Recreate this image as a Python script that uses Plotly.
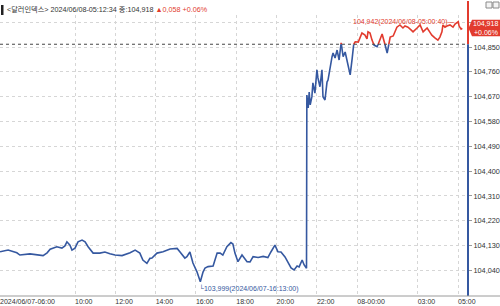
import pandas as pd
import plotly.graph_objects as go

# ---------------- data ----------------
times = [
    "2024-06-07 06:17", "2024-06-07 06:41", "2024-06-07 07:07", "2024-06-07 07:16", "2024-06-07 07:46",
    "2024-06-07 08:25", "2024-06-07 08:37", "2024-06-07 08:46", "2024-06-07 09:06", "2024-06-07 09:21",
    "2024-06-07 09:30", "2024-06-07 09:36", "2024-06-07 09:45", "2024-06-07 09:51", "2024-06-07 10:00",
    "2024-06-07 10:09", "2024-06-07 10:21", "2024-06-07 10:30", "2024-06-07 10:39", "2024-06-07 10:54",
    "2024-06-07 11:14", "2024-06-07 11:29", "2024-06-07 11:44", "2024-06-07 11:59", "2024-06-07 12:20",
    "2024-06-07 12:35", "2024-06-07 12:44", "2024-06-07 12:59", "2024-06-07 13:08", "2024-06-07 13:13",
    "2024-06-07 13:22", "2024-06-07 13:34", "2024-06-07 13:43", "2024-06-07 13:49", "2024-06-07 14:04",
    "2024-06-07 14:22", "2024-06-07 14:43", "2024-06-07 14:58", "2024-06-07 15:04", "2024-06-07 15:12",
    "2024-06-07 15:27", "2024-06-07 15:33", "2024-06-07 15:42", "2024-06-07 15:51", "2024-06-07 16:03",
    "2024-06-07 16:13", "2024-06-07 16:21", "2024-06-07 16:27", "2024-06-07 16:36", "2024-06-07 16:51",
    "2024-06-07 17:03", "2024-06-07 17:12", "2024-06-07 17:20", "2024-06-07 17:32", "2024-06-07 17:44",
    "2024-06-07 17:50", "2024-06-07 17:56", "2024-06-07 18:05", "2024-06-07 18:17", "2024-06-07 18:32",
    "2024-06-07 18:41", "2024-06-07 18:50", "2024-06-07 19:05", "2024-06-07 19:20", "2024-06-07 19:34",
    "2024-06-07 19:43", "2024-06-07 19:55", "2024-06-07 20:04", "2024-06-07 20:13", "2024-06-07 20:25",
    "2024-06-07 20:34", "2024-06-07 20:43", "2024-06-07 20:52", "2024-06-07 21:01", "2024-06-07 21:07",
    "2024-06-07 21:16", "2024-06-07 21:22", "2024-06-07 21:29", "2024-06-07 21:30", "2024-06-07 21:34",
    "2024-06-07 21:37", "2024-06-07 21:40", "2024-06-07 21:45", "2024-06-07 21:48", "2024-06-07 21:54",
    "2024-06-07 22:00", "2024-06-07 22:03", "2024-06-07 22:09", "2024-06-07 22:15", "2024-06-07 22:18",
    "2024-06-07 22:24", "2024-06-07 22:30", "2024-06-07 22:33", "2024-06-07 22:39", "2024-06-07 22:45",
    "2024-06-07 22:48", "2024-06-07 22:54", "2024-06-07 23:00", "2024-06-07 23:06", "2024-06-07 23:12",
    "2024-06-07 23:18", "2024-06-07 23:24", "2024-06-07 23:30", "2024-06-07 23:33", "2024-06-07 23:39",
    "2024-06-07 23:45", "2024-06-07 23:48", "2024-06-07 23:54", "2024-06-08 00:03", "2024-06-08 00:08",
    "2024-06-08 00:14", "2024-06-08 00:23", "2024-06-08 00:29", "2024-06-08 00:32", "2024-06-08 00:38",
    "2024-06-08 00:44", "2024-06-08 00:50", "2024-06-08 00:59", "2024-06-08 01:08", "2024-06-08 01:14",
    "2024-06-08 01:23", "2024-06-08 01:29", "2024-06-08 01:38", "2024-06-08 01:47", "2024-06-08 01:58",
    "2024-06-08 02:07", "2024-06-08 02:16", "2024-06-08 02:22", "2024-06-08 02:31", "2024-06-08 02:40",
    "2024-06-08 02:46", "2024-06-08 02:58", "2024-06-08 03:07", "2024-06-08 03:16", "2024-06-08 03:28",
    "2024-06-08 03:36", "2024-06-08 03:42", "2024-06-08 03:51", "2024-06-08 04:00", "2024-06-08 04:06",
    "2024-06-08 04:12", "2024-06-08 04:15", "2024-06-08 04:21", "2024-06-08 04:27", "2024-06-08 04:36",
    "2024-06-08 04:45", "2024-06-08 04:51", "2024-06-08 05:00:40", "2024-06-08 05:03", "2024-06-08 05:09",
    "2024-06-08 05:12:34",
]
values = [
    104.108, 104.114, 104.104, 104.096, 104.100,
    104.094, 104.104, 104.117, 104.126, 104.121,
    104.129, 104.144, 104.132, 104.114, 104.121,
    104.144, 104.150, 104.144, 104.126, 104.103,
    104.103, 104.107, 104.101, 104.096, 104.094,
    104.100, 104.104, 104.114, 104.107, 104.103,
    104.078, 104.066, 104.084, 104.085, 104.103,
    104.108, 104.118, 104.118, 104.120, 104.108,
    104.085, 104.090, 104.107, 104.067, 104.035,
    103.999, 104.034, 104.049, 104.054, 104.056,
    104.103, 104.103, 104.096, 104.126, 104.141,
    104.136, 104.103, 104.072, 104.096, 104.072,
    104.071, 104.090, 104.087, 104.091, 104.087,
    104.107, 104.132, 104.108, 104.107, 104.089,
    104.066, 104.049, 104.042, 104.056, 104.053,
    104.078, 104.060, 104.048, 104.676, 104.629,
    104.687, 104.640, 104.670, 104.720, 104.683,
    104.767, 104.738, 104.706, 104.767, 104.670,
    104.658, 104.723, 104.730, 104.779, 104.815,
    104.828, 104.810, 104.839, 104.803, 104.865,
    104.815, 104.832, 104.803, 104.781, 104.749,
    104.810, 104.857, 104.869, 104.868, 104.883,
    104.901, 104.893, 104.879, 104.905, 104.901,
    104.875, 104.857, 104.851, 104.875, 104.897,
    104.857, 104.828, 104.886, 104.890, 104.922,
    104.930, 104.919, 104.926, 104.922, 104.912,
    104.905, 104.919, 104.930, 104.905, 104.919,
    104.904, 104.893, 104.883, 104.875, 104.886,
    104.905, 104.930, 104.922, 104.926, 104.930,
    104.922, 104.933, 104.942, 104.926, 104.915,
    104.918,
]
prev_close = 104.860
last_close = 104.918
change = "0.058"
change_pct = "+0.06%"
last_time_label = "2024/06/08-05:12:34"
title_name = "달러인덱스"

ytick_vals = [104.04, 104.13, 104.22, 104.31, 104.40, 104.49, 104.58, 104.67, 104.76, 104.85, 104.94]
ytick_text = ["104,040", "104,130", "104,220", "104,310", "104,400", "104,490",
              "104,580", "104,670", "104,760", "104,850", ""]
xtick_vals = ["2024-06-07 06:17", "2024-06-07 10:00", "2024-06-07 12:00", "2024-06-07 14:00",
              "2024-06-07 16:00", "2024-06-07 18:00", "2024-06-07 20:00", "2024-06-07 22:00",
              "2024-06-08 00:00", "2024-06-08 03:00", "2024-06-08 05:00"]
xtick_text = ["2024/06/07-06:00", "10:00", "12:00", "14:00", "16:00", "18:00", "20:00", "22:00",
              "08-00:00", "03:00", "05:00"]

# ---------------- styling ----------------
BLUE = "#3558a0"
RED = "#e23b2e"
FONT = "Liberation Sans, Arial, Noto Sans CJK KR, sans-serif"
W, H = 500, 306
ML, MR, MT, MB = 0, 32, 15, 10
PW, PH = W - ML - MR, H - MT - MB
X_RANGE = ["2024-06-07 06:16:48", "2024-06-08 05:29:36"]
Y_RANGE = [103.9475, 104.966]


def ypaper(v):
    return (v - Y_RANGE[0]) / (Y_RANGE[1] - Y_RANGE[0])


def ypx_to_paper(py):
    return (H - MB - py) / PH


def xpx_to_paper(px):
    return (px - ML) / PW


# ---------------- split line by previous close ----------------
ts = list(pd.to_datetime(times, format="mixed"))
runs = []
cur_color = "r" if values[0] > prev_close else "b"
cur = [(ts[0], values[0])]
for i in range(1, len(values)):
    t0, v0 = ts[i - 1], values[i - 1]
    t1, v1 = ts[i], values[i]
    c1 = "r" if v1 > prev_close else ("b" if v1 < prev_close else cur_color)
    if c1 != cur_color:
        frac = (prev_close - v0) / (v1 - v0)
        tc = t0 + (t1 - t0) * frac
        cur.append((tc, prev_close))
        runs.append((cur_color, cur))
        cur = [(tc, prev_close)]
        cur_color = c1
    cur.append((t1, v1))
runs.append((cur_color, cur))

series = {"r": ([], []), "b": ([], [])}
for c, pts in runs:
    xs, ys = series[c]
    for t, v in pts:
        xs.append(t)
        ys.append(v)
    xs.append(None)
    ys.append(None)

fig = go.Figure()
for c, col in (("b", BLUE), ("r", RED)):
    xs, ys = series[c]
    fig.add_trace(go.Scatter(x=xs, y=ys, mode="lines", line=dict(color=col, width=1.6),
                             hoverinfo="skip", showlegend=False, connectgaps=False))

# ---------------- shapes ----------------
shapes = []
shapes.append(dict(type="line", xref="paper", yref="y", x0=0, x1=1, y0=prev_close, y1=prev_close,
                   line=dict(color="#444444", width=1, dash="dot")))
shapes.append(dict(type="line", xref="paper", yref="paper", x0=1, x1=1,
                   y0=ypaper(prev_close), y1=ypx_to_paper(1),
                   line=dict(color=RED, width=2)))
shapes.append(dict(type="line", xref="paper", yref="paper", x0=1, x1=1,
                   y0=0, y1=ypaper(prev_close),
                   line=dict(color=BLUE, width=2)))
shapes.append(dict(type="line", xref="paper", yref="paper", x0=0, x1=xpx_to_paper(W), y0=0, y1=0,
                   line=dict(color="#9a9a9a", width=1)))
cy = ypaper(last_close)
hpx = 1 / PH
x_tip = xpx_to_paper(PW + 0.5)
x_b = xpx_to_paper(PW + 4)
x_e = xpx_to_paper(W)
y_t = cy + 8.5 * hpx
y_b = cy - 8.0 * hpx
shapes.append(dict(type="path", xref="paper", yref="paper",
                   path=f"M {x_tip},{cy} L {x_b},{y_t} L {x_e},{y_t} L {x_e},{y_b} L {x_b},{y_b} Z",
                   fillcolor=RED, line=dict(width=0)))
shapes.append(dict(type="rect", xref="paper", yref="paper",
                   x0=xpx_to_paper(1), x1=xpx_to_paper(3.5), y0=ypx_to_paper(15), y1=ypx_to_paper(5),
                   fillcolor="#222222", line=dict(width=0)))
for x0 in (486, 493):
    shapes.append(dict(type="rect", xref="paper", yref="paper",
                       x0=xpx_to_paper(x0), x1=xpx_to_paper(x0 + 6), y0=ypx_to_paper(8), y1=ypx_to_paper(2),
                       fillcolor="#f4f4f4", line=dict(color="#8a8a8a", width=1)))

# ---------------- annotations ----------------
annotations = []
header = (f"&lt;{title_name}&gt; {last_time_label} 종:{last_close:.3f}".replace(".", ",")
          + f" <span style='color:{RED}'>▲{change.replace('.', ',')} {change_pct}</span>")
annotations.append(dict(xref="paper", yref="paper", x=xpx_to_paper(5), y=ypx_to_paper(9.5),
                        xanchor="left", yanchor="middle", showarrow=False, text=header,
                        font=dict(family=FONT, size=7.2, color="#333333")))
annotations.append(dict(xref="paper", yref="paper", x=xpx_to_paper((PW + 3 + W) / 2), y=cy + 4.3 * hpx,
                        xanchor="center", yanchor="middle", showarrow=False,
                        text=f"{last_close:.3f}".replace(".", ","),
                        font=dict(family=FONT, size=7, color="white")))
annotations.append(dict(xref="paper", yref="paper", x=xpx_to_paper((PW + 3 + W) / 2), y=cy - 4.0 * hpx,
                        xanchor="center", yanchor="middle", showarrow=False,
                        text=change_pct, font=dict(family=FONT, size=7, color="white")))
imax = max(range(len(values)), key=lambda i: values[i])
imin = min(range(len(values)), key=lambda i: values[i])
annotations.append(dict(x=ts[imax], y=values[imax], xref="x", yref="y", xanchor="right", yanchor="middle",
                        showarrow=False, xshift=-1,
                        text=f"{values[imax]:.3f}".replace(".", ",") + f"({ts[imax]:%Y/%m/%d-%H:%M:%S})—",
                        font=dict(family=FONT, size=7, color=RED)))
annotations.append(dict(x=ts[imin], y=values[imin], xref="x", yref="y", xanchor="left", yanchor="top",
                        showarrow=False, xshift=-3, yshift=0,
                        text="└" + f"{values[imin]:.3f}".replace(".", ",") + f"({ts[imin]:%Y/%m/%d-%H:%M:%S})",
                        font=dict(family=FONT, size=7, color=BLUE)))

fig.update_layout(
    width=W, height=H,
    margin=dict(l=ML, r=MR, t=MT, b=MB, pad=0),
    paper_bgcolor="white", plot_bgcolor="white",
    showlegend=False,
    shapes=shapes, annotations=annotations,
    font=dict(family=FONT, size=7, color="#333333"),
    xaxis=dict(type="date", range=X_RANGE, tickmode="array", tickvals=xtick_vals, ticktext=xtick_text,
               ticklabelposition="outside right", ticks="",
               tickfont=dict(family=FONT, size=7, color="#333333"),
               showgrid=True, gridcolor="#d6d6d6", griddash="dot", gridwidth=1,
               showline=False, zeroline=False, fixedrange=True, automargin=False),
    yaxis=dict(side="right", range=Y_RANGE, tickmode="array", tickvals=ytick_vals, ticktext=ytick_text,
               ticks="outside", ticklen=3, tickcolor="#999999",
               tickfont=dict(family=FONT, size=7.3, color="#333333"),
               showgrid=True, gridcolor="#d6d6d6", griddash="dot", gridwidth=1,
               showline=False, zeroline=False, fixedrange=True, automargin=False),
)

fig.write_html("out.html", config={"displayModeBar": False})
